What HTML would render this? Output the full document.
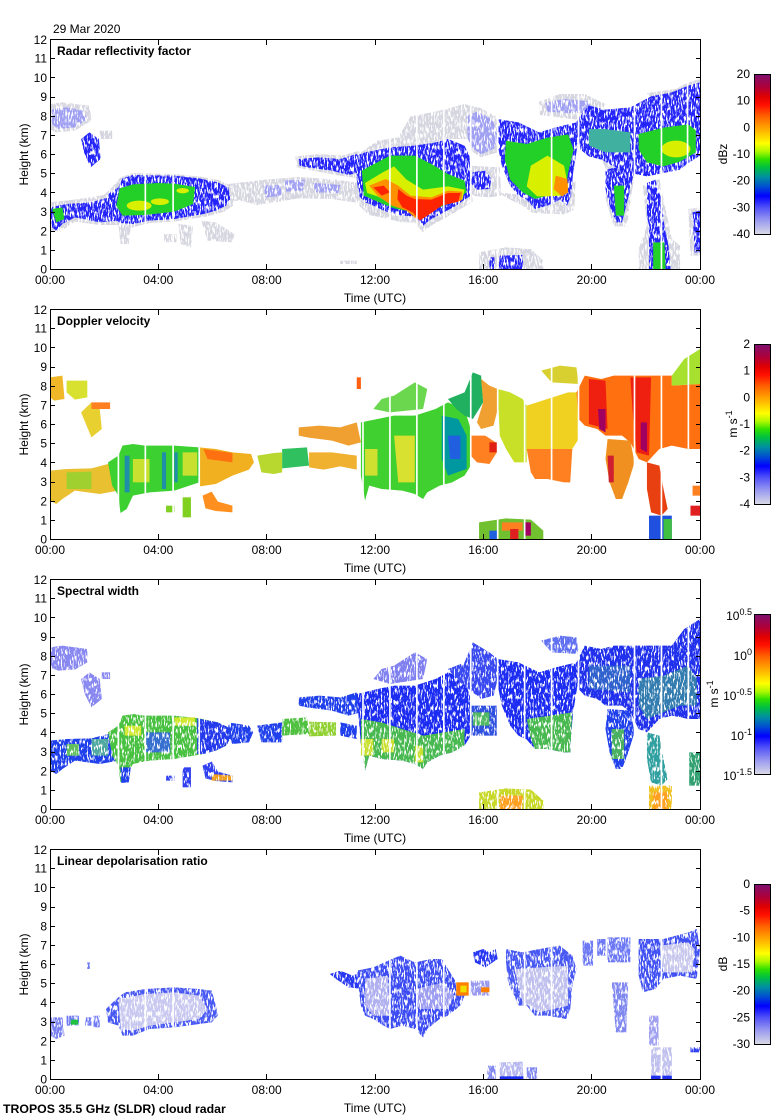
<!DOCTYPE html>
<html><head><meta charset="utf-8"><style>
html,body{margin:0;padding:0;background:#fff;}
svg{display:block;}
text{font-family:"Liberation Sans",sans-serif;font-size:12px;fill:#000;}
.b{font-weight:bold;}
</style></head><body>
<svg width="780" height="1120" viewBox="0 0 780 1120" xmlns="http://www.w3.org/2000/svg">
<defs>
<linearGradient id="cm" x1="0" y1="0" x2="0" y2="1">
<stop offset="0" stop-color="#7e1070"/>
<stop offset="0.08" stop-color="#b00038"/>
<stop offset="0.14" stop-color="#e00000"/>
<stop offset="0.19" stop-color="#ff1000"/>
<stop offset="0.26" stop-color="#ff6000"/>
<stop offset="0.33" stop-color="#ffa000"/>
<stop offset="0.39" stop-color="#ffd800"/>
<stop offset="0.43" stop-color="#ffff00"/>
<stop offset="0.48" stop-color="#b0f800"/>
<stop offset="0.53" stop-color="#30e000"/>
<stop offset="0.58" stop-color="#00c040"/>
<stop offset="0.64" stop-color="#0090a0"/>
<stop offset="0.70" stop-color="#0050d0"/>
<stop offset="0.76" stop-color="#0000ff"/>
<stop offset="0.83" stop-color="#5050f8"/>
<stop offset="0.91" stop-color="#9898f0"/>
<stop offset="1" stop-color="#dadae6"/>
</linearGradient>
<filter id="spk" filterUnits="userSpaceOnUse" x="0" y="0" width="780" height="1120" color-interpolation-filters="sRGB">
<feTurbulence type="fractalNoise" baseFrequency="0.7 0.18" numOctaves="2" seed="7" result="n"/>
<feColorMatrix in="n" type="matrix" values="0 0 0 0 0  0 0 0 0 0  0 0 0 0 0  9 0 0 0 -3.4" result="m"/>
<feComposite in="SourceGraphic" in2="m" operator="in"/>
</filter>
<filter id="spk2" filterUnits="userSpaceOnUse" x="0" y="0" width="780" height="1120" color-interpolation-filters="sRGB">
<feTurbulence type="fractalNoise" baseFrequency="0.7 0.18" numOctaves="2" seed="11" result="n"/>
<feColorMatrix in="n" type="matrix" values="0 0 0 0 0  0 0 0 0 0  0 0 0 0 0  10 0 0 0 -3.5" result="m"/>
<feComposite in="SourceGraphic" in2="m" operator="in"/>
</filter>
<clipPath id="c"><rect x="0" y="0" width="1568" height="690"/></clipPath>
<g id="axes">
<path d="M51 250.5h4M51 231.5h4M51 212.5h4M51 192.5h4M51 173.5h4M51 154.5h4M51 135.5h4M51 116.5h4M51 97.5h4M51 77.5h4M51 58.5h4M696 250.5h4M696 231.5h4M696 212.5h4M696 192.5h4M696 173.5h4M696 154.5h4M696 135.5h4M696 116.5h4M696 97.5h4M696 77.5h4M696 58.5h4M158.5 40v5M266.5 40v5M375.5 40v5M483.5 40v5M591.5 40v5M158.5 269v-5M266.5 269v-5M375.5 269v-5M483.5 269v-5M591.5 269v-5" stroke="#000" stroke-width="1" fill="none"/>
<rect x="50.5" y="39.5" width="650" height="230" fill="none" stroke="#000" stroke-width="1"/>
<g text-anchor="end">
<text x="47" y="273.5">0</text><text x="47" y="254.5">1</text><text x="47" y="235.5">2</text><text x="47" y="216">3</text><text x="47" y="197">4</text><text x="47" y="177.5">5</text><text x="47" y="158.5">6</text><text x="47" y="139.5">7</text><text x="47" y="120.5">8</text><text x="47" y="101">9</text><text x="47" y="82">10</text><text x="47" y="62.5">11</text><text x="47" y="44">12</text>
</g>
<g text-anchor="middle">
<text x="50" y="284">00:00</text><text x="158.3" y="284">04:00</text><text x="266.7" y="284">08:00</text><text x="375" y="284">12:00</text><text x="483.3" y="284">16:00</text><text x="591.7" y="284">20:00</text><text x="700" y="284">00:00</text>
<text x="375" y="302">Time (UTC)</text>
<text transform="translate(28,154.5) rotate(-90)">Height (km)</text>
</g>
<rect x="754.5" y="74.5" width="16" height="160" fill="url(#cm)" stroke="#000" stroke-width="1"/>
</g>
</defs>

<text x="53" y="33">29 Mar 2020</text>

<!-- ============ PANEL 1: Reflectivity ============ -->
<g filter="url(#spk)">
<g transform="translate(50,39) scale(0.414541,0.333333)" clip-path="url(#c)">
<g fill="#d6d6e0">
<polygon points="0,195 30,190 95,200 100,245 60,275 15,280 0,270"/>
<polygon points="120,275 150,275 150,300 120,300"/>
<polygon points="0,490 60,482 130,468 150,445 170,415 200,402 300,405 360,412 410,424 438,442 442,500 420,518 380,532 300,548 240,552 200,565 160,558 120,558 60,548 25,578 0,575"/>
<polygon points="165,555 195,560 190,615 170,615"/>
<polygon points="275,585 305,585 305,610 275,610"/>
<polygon points="310,555 345,560 340,625 315,615"/>
<polygon points="365,545 400,550 445,585 440,610 380,605"/>
<polygon points="430,435 520,422 600,414 690,422 745,432 745,492 680,480 600,478 540,490 500,498 460,485 430,488"/>
<polygon points="592,352 650,345 705,350 745,335 758,400 745,418 700,410 620,392 595,385"/>
<polygon points="745,345 790,305 840,295 870,232 930,218 1000,195 1030,205 1025,300 960,300 880,322 800,328"/>
<polygon points="740,420 745,500 770,528 800,536 850,550 880,550 900,580 922,558 956,535 990,510 1020,488 1015,420"/>
<polygon points="1000,220 1035,205 1075,232 1088,300 1080,340 1040,355 1015,335"/>
<polygon points="1010,380 1085,385 1088,470 1060,475 1015,470"/>
<polygon points="1180,188 1230,165 1290,165 1340,195 1330,242 1270,242 1182,228"/>
<polygon points="1440,162 1510,150 1540,130 1568,120 1568,150 1500,168 1450,178"/>
<polygon points="1080,460 1110,482 1140,500 1165,522 1240,526 1265,512 1268,420 1240,470 1150,470"/>
<polygon points="1330,360 1345,400 1340,480 1360,562 1392,562 1402,470 1412,400 1400,380"/>
<polygon points="1430,440 1470,420 1480,480 1500,600 1520,620 1520,690 1420,690 1420,630 1440,560"/>
<polygon points="1035,640 1100,625 1160,630 1190,665 1190,690 1035,690"/>
<polygon points="700,665 740,665 740,675 700,675"/>
<polygon points="1540,510 1568,505 1568,650 1545,650"/>
</g>
<g fill="#a0a0f2">
<polygon points="5,210 40,205 80,215 90,240 60,265 20,270 5,255"/>
<polygon points="515,440 555,438 560,470 520,475"/>
<polygon points="565,425 615,422 610,455 570,458"/>
<polygon points="635,432 700,438 695,462 640,460"/>
<polygon points="1005,232 1030,218 1068,242 1080,290 1072,328 1040,346 1020,328 1008,300"/>
<polygon points="1195,192 1240,180 1300,187 1310,222 1250,222 1200,218"/>
</g>
<g fill="#2424fa">
<polygon points="75,300 95,280 118,300 122,360 98,385 82,340"/>
<polygon points="0,505 40,495 100,490 140,475 165,455 165,545 120,550 60,535 30,555 15,575 0,560"/>
<polygon points="140,465 165,445 175,418 200,408 300,410 360,418 405,430 430,445 435,480 425,500 400,515 370,525 300,540 240,545 200,555 170,552 150,535"/>
<polygon points="600,360 650,355 700,360 740,345 752,398 720,408 680,395 620,385 602,380"/>
<polygon points="740,350 760,340 820,325 880,320 930,310 960,300 1000,320 1015,360 1015,470 1000,482 980,500 950,520 920,540 900,560 880,532 850,530 820,522 800,512 780,500 760,490 745,470 740,420"/>
<polygon points="1015,400 1050,395 1065,420 1060,450 1030,452 1015,432"/>
<polygon points="1080,240 1130,250 1180,280 1220,265 1270,250 1275,300 1262,400 1257,470 1247,500 1230,482 1200,500 1170,510 1150,482 1130,470 1110,440 1090,380 1080,320"/>
<polygon points="1270,245 1300,200 1340,212 1400,205 1450,172 1500,160 1540,140 1568,130 1568,350 1540,372 1520,392 1480,402 1440,412 1400,402 1360,382 1330,362 1300,352 1280,332"/>
<polygon points="1340,392 1380,382 1410,392 1400,450 1390,500 1380,550 1365,550 1350,500 1340,450"/>
<polygon points="1440,432 1460,422 1475,480 1482,560 1492,620 1497,690 1445,690 1445,600 1440,520"/>
<polygon points="1085,650 1140,648 1142,690 1082,690"/>
<polygon points="1060,655 1072,655 1072,690 1060,690"/>
<polygon points="1550,520 1568,515 1568,640 1555,640"/>
</g>
</g>
</g>
<g transform="translate(50,39) scale(0.414541,0.333333)" clip-path="url(#c)">
<g fill="#40b0a0">
<polygon points="1300,270 1340,270 1400,280 1400,340 1340,340 1300,320"/>
</g>
<g fill="#22d028">
<polygon points="5,510 30,505 35,540 15,550"/>
<polygon points="168,448 200,436 260,432 300,434 350,444 345,495 300,518 230,528 175,530 160,500"/>
<polygon points="752,395 780,376 820,350 880,350 920,375 960,405 1000,425 1005,460 970,490 930,510 900,536 870,518 830,508 790,488 757,470"/>
<polygon points="1100,305 1150,315 1200,296 1250,286 1263,332 1250,400 1243,460 1200,470 1170,480 1140,460 1110,422 1097,362"/>
<polygon points="1420,285 1480,266 1540,256 1558,274 1558,340 1520,368 1480,382 1440,370 1420,332"/>
<polygon points="1360,440 1385,440 1385,530 1365,530"/>
<polygon points="1455,610 1482,610 1485,690 1455,690"/>
</g>
<g fill="#d8f000">
<ellipse cx="215" cy="500" rx="30" ry="15"/>
<ellipse cx="265" cy="488" rx="22" ry="10"/>
<ellipse cx="320" cy="455" rx="15" ry="8"/>
<polygon points="760,432 800,402 830,382 860,422 900,452 960,442 1000,452 995,482 940,500 900,520 870,512 830,500 790,472 765,462"/>
<polygon points="1160,380 1200,350 1240,380 1250,440 1235,470 1200,472 1175,472 1150,442"/>
<ellipse cx="1510" cy="330" rx="35" ry="25"/>
</g>
<g fill="#ff9000">
<polygon points="770,440 810,420 840,440 870,470 920,475 960,455 995,458 992,485 945,500 915,520 885,540 860,515 825,500 790,470"/>
<polygon points="1220,410 1248,420 1250,460 1235,472 1215,450"/>
</g>
<g fill="#ff2400">
<polygon points="840,450 860,470 880,480 920,482 960,462 990,462 985,488 945,500 920,522 892,545 875,520 850,505 838,480"/>
<polygon points="780,445 805,440 820,460 800,470"/>
</g>
<g fill="#fff">
<rect x="228" y="0" width="4" height="690"/><rect x="295" y="0" width="4" height="690"/><rect x="818" y="0" width="4" height="690"/><rect x="883" y="0" width="4" height="690"/><rect x="948" y="0" width="4" height="690"/><rect x="1013" y="0" width="4" height="690"/><rect x="1078" y="0" width="4" height="690"/><rect x="1208" y="0" width="4" height="690"/><rect x="1273" y="0" width="4" height="690"/><rect x="1408" y="0" width="4" height="690"/><rect x="1473" y="0" width="4" height="690"/><rect x="1536" y="0" width="4" height="690"/>
</g>
</g>

<!-- ============ PANEL 2: Doppler velocity ============ -->
<g transform="translate(50,309) scale(0.414541,0.333333)" clip-path="url(#c)">
<polygon fill="#f0b828" points="0,205 30,200 35,270 10,275 0,265"/>
<polygon fill="#d8e030" points="40,215 90,215 90,265 60,272 40,250"/>
<polygon fill="#e8d030" points="75,310 100,280 120,300 125,360 100,385 85,340"/>
<polygon fill="#ff8020" points="100,280 145,280 145,300 100,300"/>
<polygon fill="#ff6010" points="740,205 750,205 750,240 740,240"/>
<polygon fill="#e8c030" points="0,485 40,480 100,478 140,465 165,440 165,545 120,555 60,545 30,570 15,585 0,575"/>
<polygon fill="#a0d030" points="40,490 100,488 100,540 40,540"/>
<polygon fill="#3cd030" points="140,460 165,440 175,410 200,405 230,410 300,410 360,415 360,520 300,545 240,550 200,560 185,600 170,612 165,560 150,530"/>
<g fill="#2090a8"><rect x="180" y="440" width="12" height="110"/><rect x="270" y="430" width="10" height="110"/><rect x="300" y="430" width="8" height="90"/></g>
<g fill="#c8e030"><rect x="200" y="450" width="40" height="70"/><rect x="320" y="430" width="35" height="70"/></g>
<polygon fill="#f0b020" points="360,415 400,420 440,430 485,435 492,460 480,482 440,500 400,525 362,532"/>
<polygon fill="#ff7010" points="370,420 440,432 440,460 380,450"/>
<polygon fill="#ff9020" points="368,560 390,548 405,578 440,590 440,610 400,606 375,598"/>
<g fill="#80d020"><rect x="280" y="590" width="20" height="20"/><rect x="320" y="565" width="20" height="60"/></g>
<polygon fill="#b8d830" points="500,440 540,432 560,430 560,490 540,495 510,490"/>
<polygon fill="#30c060" points="560,420 620,415 625,470 560,478"/>
<polygon fill="#f0b030" points="625,430 680,430 740,440 740,482 700,472 660,482 625,475"/>
<polygon fill="#f0a030" points="600,355 650,350 700,355 740,340 750,400 720,410 680,395 620,385 600,380"/>
<polygon fill="#40d030" points="750,340 790,330 830,320 880,320 930,300 960,280 1000,300 1015,360 1015,470 1000,500 970,520 940,530 910,550 900,570 880,555 850,545 800,540 770,530 760,575 750,500"/>
<polygon fill="#d8e030" points="830,380 880,380 880,520 840,520"/>
<polygon fill="#d0e030" points="760,420 790,420 790,500 760,500"/>
<polygon fill="#0098a0" points="945,320 985,330 1005,380 1005,480 960,500 945,450"/>
<polygon fill="#2060e0" points="960,380 990,380 990,450 965,450"/>
<polygon fill="#50d030" opacity="0.85" points="780,300 800,270 830,260 880,220 910,240 900,300 820,310"/>
<polygon fill="#20b060" points="960,270 1000,250 1020,190 1040,200 1045,280 1020,330 1000,320 980,300"/>
<polygon fill="#f0a030" points="1040,210 1060,230 1080,240 1080,300 1070,350 1040,360 1030,340 1045,280"/>
<polygon fill="#ff8020" points="1015,380 1050,380 1075,400 1078,430 1060,465 1030,460 1015,440"/>
<polygon fill="#e02010" points="1060,400 1078,400 1078,430 1060,430"/>
<polygon fill="#c8e028" points="1080,240 1110,250 1140,270 1150,290 1150,460 1120,460 1100,420 1085,380"/>
<polygon fill="#f0d020" points="1150,290 1200,270 1250,250 1275,250 1275,390 1260,420 1150,420"/>
<polygon fill="#ff8020" points="1150,420 1260,420 1255,520 1240,520 1200,510 1170,510 1160,490"/>
<polygon fill="#ff7010" points="1270,250 1290,200 1330,210 1360,200 1400,200 1450,200 1500,200 1500,230 1568,225 1568,420 1540,420 1500,410 1470,420 1440,460 1420,450 1400,400 1380,380 1340,380 1320,360 1290,350 1275,330"/>
<polygon fill="#f02010" points="1300,210 1340,215 1345,360 1300,345"/>
<polygon fill="#f02010" points="1400,205 1450,205 1445,440 1415,430 1405,300"/>
<polygon fill="#a00060" points="1322,300 1340,300 1340,370 1325,360"/>
<polygon fill="#a00060" points="1425,340 1440,340 1440,430 1425,420"/>
<polygon fill="#a8e030" points="1500,200 1530,150 1568,120 1568,225 1500,230"/>
<polygon fill="#d8d030" points="1185,185 1230,170 1270,175 1275,225 1210,220"/>
<polygon fill="#f09020" points="1345,390 1400,395 1410,460 1395,520 1380,570 1365,570 1350,520 1340,450"/>
<polygon fill="#d02030" points="1345,440 1360,440 1360,520 1348,520"/>
<polygon fill="#e84010" points="1440,460 1470,470 1480,540 1490,600 1475,620 1450,610 1440,540"/>
<polygon fill="#2050e0" points="1445,620 1500,620 1500,690 1445,690"/>
<polygon fill="#40c040" points="1480,630 1500,630 1500,690 1480,690"/>
<polygon fill="#70c030" points="1035,640 1100,628 1160,632 1190,665 1190,690 1035,690"/>
<polygon fill="#ff8020" points="1090,640 1140,640 1140,665 1090,665"/>
<polygon fill="#e02020" points="1110,660 1130,660 1130,690 1110,690"/>
<polygon fill="#a00060" points="1145,640 1160,640 1160,680 1145,680"/>
<polygon fill="#2060e0" points="1060,665 1080,665 1080,690 1060,690"/>
<polygon fill="#ff8020" points="1550,530 1568,530 1568,560 1550,560"/>
<polygon fill="#e02020" points="1545,590 1568,590 1568,620 1545,620"/>
<g fill="#fff">
<rect x="163" y="0" width="4" height="690"/><rect x="228" y="0" width="4" height="690"/><rect x="295" y="0" width="4" height="690"/><rect x="358" y="0" width="4" height="690"/><rect x="753" y="0" width="4" height="690"/><rect x="818" y="0" width="4" height="690"/><rect x="883" y="0" width="4" height="690"/><rect x="948" y="0" width="4" height="690"/><rect x="1013" y="0" width="4" height="690"/><rect x="1078" y="0" width="4" height="690"/><rect x="1143" y="0" width="4" height="690"/><rect x="1208" y="0" width="4" height="690"/><rect x="1273" y="0" width="4" height="690"/><rect x="1408" y="0" width="4" height="690"/><rect x="1473" y="0" width="4" height="690"/><rect x="1538" y="0" width="4" height="690"/>
</g>
</g>

<!-- ============ PANEL 3: Spectral width ============ -->
<g filter="url(#spk2)">
<g transform="translate(50,579) scale(0.414541,0.333333)" clip-path="url(#c)">
<polygon fill="#8888f0" points="0,205 30,200 90,210 90,250 60,272 20,275 0,265"/>
<polygon fill="#8888f0" points="75,300 95,280 120,300 125,360 100,385 82,340"/>
<polygon fill="#8888f0" points="125,280 145,280 145,300 125,300"/>
<polygon fill="#2040ec" points="0,485 40,480 100,478 140,465 165,440 165,545 120,555 60,545 30,570 15,585 0,575"/>
<polygon fill="#60c060" points="40,495 70,495 70,530 40,530"/>
<polygon fill="#50a8a0" points="100,480 140,480 140,530 100,530"/>
<polygon fill="#48c040" points="140,460 165,440 175,410 200,405 230,410 300,410 360,418 405,430 430,445 435,480 425,500 400,515 370,525 300,540 240,545 200,555 180,600 170,610 165,560 150,530"/>
<polygon fill="#3870d0" points="230,460 290,460 290,520 230,520"/>
<polygon fill="#2438ec" points="355,418 405,430 430,445 435,480 425,500 400,515 370,525 355,525"/>
<g fill="#d0e830"><rect x="180" y="440" width="40" height="30"/><rect x="300" y="415" width="50" height="25"/></g>
<polygon fill="#2040ec" points="170,565 195,565 190,610 172,612"/>
<g fill="#3040f0"><rect x="280" y="590" width="20" height="15"/><rect x="320" y="565" width="20" height="60"/></g>
<polygon fill="#3040f0" points="368,560 390,548 405,578 440,590 440,610 400,606 375,598"/>
<polygon fill="#f0a020" points="390,585 440,590 440,605 390,605"/>
<polygon fill="#2040ec" points="430,430 480,440 490,460 480,490 440,495 430,470"/>
<polygon fill="#2040ec" points="500,440 560,430 560,490 510,490"/>
<polygon fill="#50c040" points="560,420 620,415 625,465 560,470"/>
<polygon fill="#90d030" points="625,428 690,430 690,470 625,472"/>
<polygon fill="#2040ec" points="700,430 740,440 740,480 700,470"/>
<polygon fill="#2040ec" points="600,355 650,350 700,355 740,340 750,400 720,410 680,395 620,385 600,380"/>
<polygon fill="#1c2cf2" points="740,345 790,330 830,320 880,320 930,300 960,280 1000,300 1015,360 1015,470 1000,500 970,520 940,530 910,550 900,570 880,555 850,545 800,540 770,530 760,575 750,500"/>
<polygon fill="#48b850" points="750,420 800,430 850,450 900,470 950,460 1000,450 1000,500 970,520 940,530 910,550 900,570 880,555 850,545 800,540 770,530 760,575 750,500"/>
<g fill="#c8e030"><rect x="750" y="480" width="30" height="50"/><rect x="800" y="480" width="30" height="40"/><rect x="880" y="500" width="20" height="50"/></g>
<polygon fill="#8080f0" points="780,300 800,270 830,260 880,220 910,240 900,300 820,315"/>
<polygon fill="#3a4af0" points="960,270 1000,250 1020,190 1060,220 1080,240 1080,300 1070,350 1040,360 1020,340 1000,320 980,300"/>
<polygon fill="#3050e0" points="1015,380 1078,380 1078,470 1015,470"/>
<polygon fill="#50b860" points="1020,400 1060,400 1060,440 1020,440"/>
<polygon fill="#1c2cf2" points="1080,240 1130,250 1180,280 1220,265 1270,250 1275,300 1262,400 1257,470 1255,520 1240,520 1200,510 1170,510 1150,482 1130,470 1110,440 1090,380 1080,320"/>
<polygon fill="#48b850" points="1150,420 1260,400 1255,520 1240,520 1200,510 1170,510 1160,480"/>
<polygon fill="#2030ec" points="1270,250 1290,200 1330,210 1360,200 1400,200 1450,200 1500,200 1530,150 1568,120 1568,420 1540,420 1500,410 1470,420 1440,460 1420,450 1400,400 1380,380 1340,380 1320,360 1290,350 1275,330"/>
<polygon fill="#3890a0" opacity="0.8" points="1420,300 1480,290 1540,260 1560,300 1560,380 1520,380 1480,400 1440,420 1420,380"/>
<polygon fill="#3878c0" opacity="0.7" points="1300,260 1400,260 1400,340 1300,330"/>
<polygon fill="#6070f0" points="1185,185 1230,170 1270,175 1275,225 1210,220"/>
<polygon fill="#2040ec" points="1345,390 1400,395 1410,460 1395,520 1380,570 1365,570 1350,520 1340,450"/>
<polygon fill="#48b060" points="1355,450 1385,450 1385,540 1355,540"/>
<polygon fill="#30a0a0" points="1440,460 1470,470 1480,540 1490,600 1475,620 1450,610 1440,540"/>
<polygon fill="#f0c020" points="1445,620 1500,620 1500,690 1445,690"/>
<polygon fill="#ffa020" points="1455,640 1490,640 1490,690 1455,690"/>
<polygon fill="#c8d828" points="1035,640 1100,628 1160,632 1190,665 1190,690 1035,690"/>
<polygon fill="#ffa020" points="1085,650 1140,650 1140,690 1085,690"/>
<polygon fill="#30a070" points="1540,520 1568,520 1568,620 1540,620"/>
</g>
</g>
<g transform="translate(50,579) scale(0.414541,0.333333)" clip-path="url(#c)">
<g fill="#fff">
<rect x="163" y="0" width="4" height="690"/><rect x="228" y="0" width="4" height="690"/><rect x="295" y="0" width="4" height="690"/><rect x="358" y="0" width="4" height="690"/><rect x="753" y="0" width="4" height="690"/><rect x="818" y="0" width="4" height="690"/><rect x="883" y="0" width="4" height="690"/><rect x="948" y="0" width="4" height="690"/><rect x="1013" y="0" width="4" height="690"/><rect x="1078" y="0" width="4" height="690"/><rect x="1143" y="0" width="4" height="690"/><rect x="1208" y="0" width="4" height="690"/><rect x="1273" y="0" width="4" height="690"/><rect x="1408" y="0" width="4" height="690"/><rect x="1473" y="0" width="4" height="690"/><rect x="1538" y="0" width="4" height="690"/>
</g>
</g>

<!-- ============ PANEL 4: LDR ============ -->
<g filter="url(#spk)">
<g transform="translate(50,849) scale(0.414541,0.333333)" clip-path="url(#c)">
<polygon fill="#7880f0" points="0,505 30,505 35,560 15,570 0,560"/>
<g fill="#3040f0" opacity="0.7"><rect x="40" y="500" width="30" height="30"/><rect x="85" y="505" width="15" height="25"/><rect x="105" y="500" width="15" height="35"/><rect x="90" y="340" width="6" height="20"/></g>
<polygon fill="#4858f2" points="135,480 160,450 180,430 230,420 300,415 360,420 390,425 400,470 405,500 390,520 360,525 300,535 240,540 200,560 175,560 165,530 140,520"/>
<polygon fill="#c8c8f0" points="165,450 230,435 300,430 360,440 380,480 360,510 300,520 240,530 200,545 170,540"/>
<polygon fill="#2838f2" points="675,375 700,365 730,380 750,370 755,420 720,415 690,390"/>
<polygon fill="#3c4cf2" points="740,365 780,355 825,330 845,320 880,340 920,330 945,330 960,360 980,400 1000,440 990,470 960,500 940,510 910,540 900,565 880,540 850,530 820,540 805,530 780,510 760,500 750,470 745,420"/>
<polygon fill="#b0b0f0" points="760,390 815,380 820,500 780,500 760,470"/>
<polygon fill="#9c9cf0" points="880,420 950,400 975,440 960,480 890,480"/>
<polygon fill="#9898f0" points="1015,395 1060,395 1060,440 1015,440"/>
<polygon fill="#2838f2" points="1020,310 1045,300 1060,310 1075,300 1080,330 1050,355 1025,340"/>
<polygon fill="#4858f2" points="1100,300 1140,310 1180,300 1230,290 1260,320 1270,360 1260,410 1255,480 1245,510 1200,500 1170,500 1150,470 1130,470 1120,440 1105,400 1100,340"/>
<polygon fill="#c0c0ee" points="1120,360 1250,350 1250,470 1180,490 1140,460"/>
<polygon fill="#4050f2" points="1420,270 1480,270 1540,250 1560,240 1568,300 1560,390 1520,380 1480,390 1460,420 1430,430 1420,380"/>
<polygon fill="#c8c8ee" points="1470,290 1540,280 1555,300 1550,370 1480,370"/>
<g fill="#3040f0" opacity="0.7"><rect x="1285" y="275" width="25" height="75"/><rect x="1320" y="270" width="20" height="50"/><rect x="1345" y="265" width="55" height="75"/></g>
<polygon fill="#8088f0" points="1355,400 1395,400 1390,550 1365,550"/>
<polygon fill="#a0a0f0" points="1445,500 1468,500 1468,590 1445,590"/>
<polygon fill="#c0c0ee" points="1450,595 1500,595 1500,690 1450,690"/>
<polygon fill="#b8b8f0" points="1085,640 1140,638 1142,690 1085,690"/>
<rect x="1055" y="650" width="20" height="40" fill="#8088f0"/>
<rect x="1150" y="655" width="25" height="35" fill="#8088f0"/>
<rect x="1545" y="595" width="23" height="15" fill="#3040f0"/>
</g>
</g>
<g transform="translate(50,849) scale(0.414541,0.333333)" clip-path="url(#c)">
<rect x="50" y="512" width="18" height="15" fill="#20c040"/>
<polygon fill="#ff8000" points="980,400 1010,400 1010,440 980,440"/>
<polygon fill="#f0e000" points="990,410 1005,410 1005,430 990,430"/>
<polygon fill="#ff8000" points="1040,415 1060,415 1060,430 1040,430"/>
<rect x="1450" y="680" width="50" height="10" fill="#2030f0"/>
<rect x="1085" y="682" width="57" height="8" fill="#2030f0"/>
<g fill="#fff">
<rect x="228" y="0" width="4" height="690"/><rect x="295" y="0" width="4" height="690"/><rect x="818" y="0" width="4" height="690"/><rect x="883" y="0" width="4" height="690"/><rect x="948" y="0" width="4" height="690"/><rect x="1143" y="0" width="4" height="690"/><rect x="1208" y="0" width="4" height="690"/><rect x="1473" y="0" width="4" height="690"/>
</g>
</g>

<!-- axes for all panels -->
<use href="#axes"/>
<use href="#axes" y="270"/>
<use href="#axes" y="540"/>
<use href="#axes" y="810"/>

<!-- titles -->
<text class="b" x="57" y="55">Radar reflectivity factor</text>
<text class="b" x="57" y="325">Doppler velocity</text>
<text class="b" x="57" y="595">Spectral width</text>
<text class="b" x="57" y="865">Linear depolarisation ratio</text>

<!-- colorbar labels -->
<g text-anchor="end">
<text x="750" y="78">20</text><text x="750" y="104.7">10</text><text x="750" y="131.3">0</text><text x="750" y="158">-10</text><text x="750" y="184.7">-20</text><text x="750" y="211.3">-30</text><text x="750" y="238">-40</text>
<text x="750" y="348">2</text><text x="750" y="374.7">1</text><text x="750" y="401.3">0</text><text x="750" y="428">-1</text><text x="750" y="454.7">-2</text><text x="750" y="481.3">-3</text><text x="750" y="508">-4</text>
<text x="752" y="620">10<tspan font-size="9" dy="-5">0.5</tspan></text>
<text x="752" y="660">10<tspan font-size="9" dy="-5">0</tspan></text>
<text x="752" y="700">10<tspan font-size="9" dy="-5">-0.5</tspan></text>
<text x="752" y="740">10<tspan font-size="9" dy="-5">-1</tspan></text>
<text x="752" y="780">10<tspan font-size="9" dy="-5">-1.5</tspan></text>
<text x="750" y="888">0</text><text x="750" y="914.7">-5</text><text x="750" y="941.3">-10</text><text x="750" y="968">-15</text><text x="750" y="994.7">-20</text><text x="750" y="1021.3">-25</text><text x="750" y="1048">-30</text>
</g>
<g text-anchor="middle">
<text transform="translate(727,154) rotate(-90)">dBz</text>
<text transform="translate(737,424) rotate(-90)">m s<tspan font-size="9" dy="-5">-1</tspan></text>
<text transform="translate(718,694) rotate(-90)">m s<tspan font-size="9" dy="-5">-1</tspan></text>
<text transform="translate(727,964) rotate(-90)">dB</text>
</g>

<text class="b" x="3" y="1113" style="font-size:12.3px">TROPOS 35.5 GHz (SLDR) cloud radar</text>
</svg>
</body></html>
